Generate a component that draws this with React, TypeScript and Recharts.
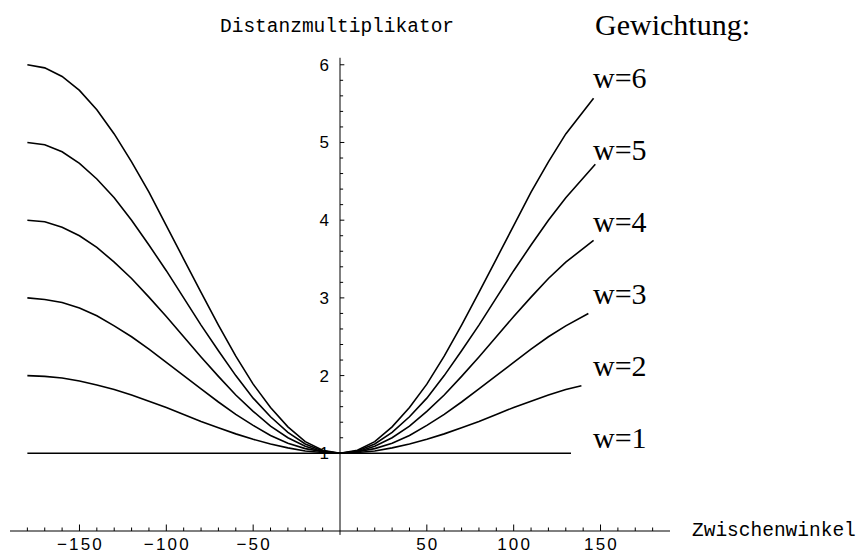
import { LineChart, Line, XAxis, YAxis, ReferenceLine } from 'recharts';

// angle samples (degrees) shared by the weighted curves
const angles = [
  -180, -170, -160, -150, -140, -130, -120, -110, -100, -90, -80, -70, -60, -50, -40, -30,
  -20, -10, 0, 10, 20, 30, 40, 50, 60, 70, 80, 90, 100, 110, 120, 130,
];

const w2 = [2.0, 1.99, 1.97, 1.93, 1.88, 1.82, 1.75, 1.67, 1.59, 1.5, 1.41, 1.33, 1.25, 1.18, 1.12, 1.07, 1.03, 1.01, 1.0, 1.01, 1.03, 1.07, 1.12, 1.18, 1.25, 1.33, 1.41, 1.5, 1.59, 1.67, 1.75, 1.82];
const w3 = [3.0, 2.98, 2.94, 2.87, 2.77, 2.64, 2.5, 2.34, 2.17, 2.0, 1.83, 1.66, 1.5, 1.36, 1.23, 1.13, 1.06, 1.02, 1.0, 1.02, 1.06, 1.13, 1.23, 1.36, 1.5, 1.66, 1.83, 2.0, 2.17, 2.34, 2.5, 2.64];
const w4 = [4.0, 3.98, 3.91, 3.8, 3.65, 3.46, 3.25, 3.01, 2.76, 2.5, 2.24, 1.99, 1.75, 1.54, 1.35, 1.2, 1.09, 1.02, 1.0, 1.02, 1.09, 1.2, 1.35, 1.54, 1.75, 1.99, 2.24, 2.5, 2.76, 3.01, 3.25, 3.46];
const w5 = [5.0, 4.97, 4.88, 4.73, 4.53, 4.29, 4.0, 3.68, 3.35, 3.0, 2.65, 2.32, 2.0, 1.71, 1.47, 1.27, 1.12, 1.03, 1.0, 1.03, 1.12, 1.27, 1.47, 1.71, 2.0, 2.32, 2.65, 3.0, 3.35, 3.68, 4.0, 4.29];
const w6 = [6.0, 5.96, 5.85, 5.67, 5.42, 5.11, 4.75, 4.36, 3.93, 3.5, 3.07, 2.65, 2.25, 1.89, 1.59, 1.34, 1.15, 1.04, 1.0, 1.04, 1.15, 1.34, 1.59, 1.89, 2.25, 2.65, 3.07, 3.5, 3.93, 4.36, 4.75, 5.11];

// where each curve stops on the right (hidden behind its label)
const endAngles = [139, 143, 146, 147, 146];
const endValues = [1.87, 2.8, 3.74, 4.72, 5.57];

// w=1 is flat
const flatAngles = [-180, 133];
const w1 = [1, 1];

const weightLabels = ['w=6', 'w=5', 'w=4', 'w=3', 'w=2', 'w=1'];

const xTicks = [
  -180, -170, -160, -150, -140, -130, -120, -110, -100, -90, -80, -70, -60, -50, -40, -30, -20, -10,
  10, 20, 30, 40, 50, 60, 70, 80, 90, 100, 110, 120, 130, 140, 150, 160, 170, 180,
];
const yTicks = [1, 1.2, 1.4, 1.6, 1.8, 2, 2.2, 2.4, 2.6, 2.8, 3, 3.2, 3.4, 3.6, 3.8, 4, 4.2, 4.4, 4.6, 4.8, 5, 5.2, 5.4, 5.6, 5.8, 6];

const toPoints = (xs: number[], ys: number[]) => xs.map((x, i) => ({ x, y: ys[i] }));

const series = [w2, w3, w4, w5, w6].map((vals, k) =>
  toPoints(angles, vals).concat({ x: endAngles[k], y: endValues[k] })
);
const flat = toPoints(flatAngles, w1);

const tickFont = '"Liberation Sans", Arial, sans-serif';
const monoFont = '"Liberation Mono", "Courier New", monospace';
const serifFont = '"Liberation Serif", "Times New Roman", serif';

function XTick(props: any) {
  const { x, y, payload } = props;
  const v = payload.value as number;
  const major = v % 50 === 0;
  return (
    <g>
      <line x1={x} x2={x} y1={y} y2={y - (major ? 6.5 : 3.5)} stroke="#000" strokeWidth={1} />
      {major && (
        <text x={x + 1} y={y + 19} textAnchor="middle" fontSize={17} letterSpacing={2.2} fontFamily={tickFont} fill="#000">
          {v < 0 ? `\u2212${Math.abs(v)}` : String(v)}
        </text>
      )}
    </g>
  );
}

// y tick mark (pointing right) with its number to the left of the axis
const yTickShape = (text: string | null) => (p: any) => (
  <g>
    <line x1={p.x1} y1={p.y1} x2={p.x2} y2={p.y2} stroke="#000" strokeWidth={1} />
    {text && (
      <text x={Math.min(p.x1, p.x2) - 11} y={p.y1 + 6} textAnchor="end" fontSize={17} fontFamily={tickFont} fill="#000">
        {text}
      </text>
    )}
  </g>
);

export default function App() {
  return (
    <div style={{ position: 'absolute', left: 0, top: 0, width: 858, height: 554, background: '#fff' }}>
      <LineChart width={858} height={554} margin={{ top: 57, right: 188, bottom: 0, left: 10 }}>
        <XAxis
          type="number"
          dataKey="x"
          domain={[-190, 190]}
          allowDataOverflow
          ticks={xTicks}
          interval={0}
          tickLine={false}
          tickSize={0}
          tickMargin={0}
          height={23}
          axisLine={{ stroke: '#000', strokeWidth: 1 }}
          tick={(p: any) => <XTick {...p} />}
        />
        <YAxis type="number" domain={[0, 6.1]} allowDataOverflow hide width={0} />

        {/* vertical axis through x = 0 */}
        <ReferenceLine
          segment={[{ x: 0, y: -0.05 }, { x: 0, y: 6.09 }]}
          stroke="#000"
          strokeWidth={1}
          ifOverflow="visible"
        />
        {yTicks.map((t) => {
          const major = Number.isInteger(t);
          return (
            <ReferenceLine
              key={t}
              segment={[{ x: 0, y: t }, { x: major ? 2.5 : 1.8, y: t }]}
              ifOverflow="visible"
              shape={yTickShape(major ? String(t) : null)}
            />
          );
        })}

        <Line data={flat} dataKey="y" type="linear" stroke="#000" strokeWidth={1.5} dot={false} isAnimationActive={false} />
        {series.map((d, k) => (
          <Line
            key={k}
            data={d}
            dataKey="y"
            type="linear"
            stroke="#000"
            strokeWidth={1.6}
            dot={false}
            isAnimationActive={false}
          />
        ))}
      </LineChart>

      <svg width={858} height={554} style={{ position: 'absolute', left: 0, top: 0, pointerEvents: 'none' }}>
        <text x={220} y={32} fontFamily={monoFont} fontSize={19.5} fill="#000">
          Distanzmultiplikator
        </text>
        <text x={692} y={536} fontFamily={monoFont} fontSize={19.5} fill="#000">
          Zwischenwinkel
        </text>
        <text x={595} y={35} fontFamily={serifFont} fontSize={30} fill="#000">
          Gewichtung:
        </text>
        {weightLabels.map((w, i) => (
          <text key={w} x={593} y={88 + i * 72} fontFamily={serifFont} fontSize={30} fill="#000">
            {w}
          </text>
        ))}
      </svg>
    </div>
  );
}
